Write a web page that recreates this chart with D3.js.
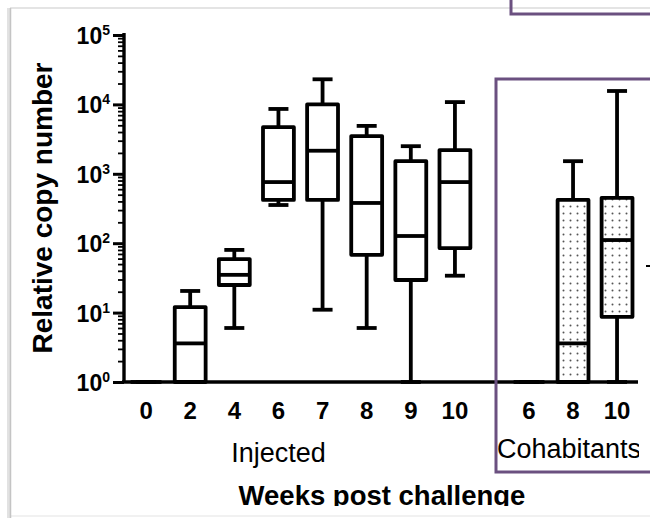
<!DOCTYPE html>
<html>
<head>
<meta charset="utf-8">
<script src="https://cdn.jsdelivr.net/npm/d3@7"></script>
<style>
  body { margin: 0; background: #fff; }
  text { font-family: "Liberation Sans", Arial, sans-serif; }
</style>
</head>
<body>
<div id="chart"></div>
<script>
// data (relative copy number, log scale)
const injectedWeeks = ["0", "2", "4", "6", "7", "8", "9", "10"];
const cohabWeeks = ["6", "8", "10"];
const groupNames = ["Injected", "Cohabitants"];
// one value per box: injected first, then cohabitants
const whiskerLow  = [1, 1, 6, 355, 11, 6, 1, 34, 1, 1, 1];
const q1          = [1, 1, 25, 420, 420, 68, 29.5, 85, 1, 1, 8.7];
const median      = [1, 3.6, 35, 760, 2150, 380, 127, 760, 1, 3.6, 111];
const q3          = [1, 12, 59, 4700, 10000, 3500, 1520, 2200, 1, 420, 450];
const whiskerHigh = [1, 20.5, 80, 8600, 23000, 4900, 2500, 10800, 1, 1520, 15600];
const decades = [1, 10, 100, 1000, 10000, 100000];
const decadeExp = ["0", "1", "2", "3", "4", "5"];

const width = 650, height = 518;
const svg = d3.select("#chart").append("svg")
    .attr("width", width)
    .attr("height", height);

const defs = svg.append("defs");
const pat = defs.append("pattern")
    .attr("id", "dots")
    .attr("patternUnits", "userSpaceOnUse")
    .attr("width", 7).attr("height", 7);
pat.append("rect").attr("width", 7).attr("height", 7).attr("fill", "#fff");
pat.append("circle").attr("cx", 3.5).attr("cy", 3.5).attr("r", 1).attr("fill", "#555");

defs.append("clipPath").attr("id", "crop")
  .append("rect").attr("x", 0).attr("y", 0).attr("width", 639).attr("height", 506);

// slide frame
svg.append("line").attr("x1", 10).attr("x2", 650).attr("y1", 8).attr("y2", 8)
    .attr("stroke", "#e4e4e4").attr("stroke-width", 2);
svg.append("line").attr("x1", 10).attr("x2", 650).attr("y1", 516).attr("y2", 516)
    .attr("stroke", "#ececec").attr("stroke-width", 1.5);
svg.append("line").attr("x1", 9).attr("x2", 9).attr("y1", 8).attr("y2", 518)
    .attr("stroke", "#e2e2e2").attr("stroke-width", 4);
svg.append("line").attr("x1", 10.5).attr("x2", 10.5).attr("y1", 8).attr("y2", 518)
    .attr("stroke", "#c4c4c4").attr("stroke-width", 1.5);

const g = svg.append("g").attr("clip-path", "url(#crop)");

const y = d3.scaleLog().domain([1, 1e5]).range([382, 35]);
const xInj = d3.scaleBand().domain(injectedWeeks).range([124, 477])
    .paddingInner(0.3).paddingOuter(0.15);
const xCoh = d3.scaleBand().domain(cohabWeeks).range([507, 639])
    .paddingInner(0.3).paddingOuter(0.15);

const boxes = injectedWeeks.map((w, i) => ({week: w, group: 0, i: i}))
  .concat(cohabWeeks.map((w, i) => ({week: w, group: 1, i: injectedWeeks.length + i})));
const xOf = d => (d.group === 0 ? xInj : xCoh)(d.week);
const bw = xInj.bandwidth();

// y axis: major + minor ticks
const minor = [];
decades.slice(0, -1).forEach(d => { for (let k = 2; k < 10; k++) minor.push(d * k); });

g.append("g")
    .attr("transform", "translate(124,0)")
    .call(d3.axisLeft(y).tickValues(minor).tickSize(6).tickFormat(""))
    .call(a => a.select(".domain").remove())
    .selectAll("line").attr("stroke", "#000").attr("stroke-width", 1.8);

g.append("g")
    .attr("transform", "translate(124,0)")
    .call(d3.axisLeft(y).tickValues(decades).tickSize(11).tickFormat(""))
    .call(a => a.select(".domain").remove())
    .selectAll("line").attr("stroke", "#000").attr("stroke-width", 3);

const yl = g.append("g").selectAll("text")
    .data(decades)
    .enter().append("text")
    .attr("x", 110)
    .attr("y", d => y(d) + 9)
    .attr("text-anchor", "end")
    .attr("font-size", 23)
    .attr("font-weight", "bold");
yl.append("tspan").text("10");
yl.append("tspan").attr("font-size", 14).attr("dy", -9).text((d, i) => decadeExp[i]);

g.append("line").attr("x1", 124).attr("x2", 124).attr("y1", 33).attr("y2", 383)
    .attr("stroke", "#000").attr("stroke-width", 3.4);
g.append("line").attr("x1", 122).attr("x2", 638).attr("y1", 382).attr("y2", 382)
    .attr("stroke", "#000").attr("stroke-width", 3.4);

// x tick labels
g.append("g").selectAll("text")
    .data(boxes)
    .enter().append("text")
    .attr("x", d => xOf(d) + bw / 2)
    .attr("y", 419)
    .attr("text-anchor", "middle")
    .attr("font-size", 24)
    .attr("font-weight", "bold")
    .text(d => d.week);

// boxes
const box = g.append("g").selectAll("g")
    .data(boxes)
    .enter().append("g")
    .attr("stroke", "#000")
    .attr("stroke-width", 3.8)
    .attr("stroke-linejoin", "round");

box.append("line")
    .attr("x1", d => xOf(d) + bw / 2).attr("x2", d => xOf(d) + bw / 2)
    .attr("y1", d => y(whiskerLow[d.i])).attr("y2", d => y(whiskerHigh[d.i]));
box.append("line")
    .attr("x1", d => xOf(d) + bw / 2 - 10).attr("x2", d => xOf(d) + bw / 2 + 10)
    .attr("y1", d => y(whiskerHigh[d.i])).attr("y2", d => y(whiskerHigh[d.i]));
box.append("line")
    .attr("x1", d => xOf(d) + bw / 2 - 10).attr("x2", d => xOf(d) + bw / 2 + 10)
    .attr("y1", d => y(whiskerLow[d.i])).attr("y2", d => y(whiskerLow[d.i]));
box.append("rect")
    .attr("x", d => xOf(d))
    .attr("width", bw)
    .attr("y", d => y(q3[d.i]))
    .attr("height", d => y(q1[d.i]) - y(q3[d.i]))
    .attr("fill", d => d.group === 1 ? "url(#dots)" : "#fff");
box.append("line")
    .attr("x1", d => xOf(d)).attr("x2", d => xOf(d) + bw)
    .attr("y1", d => y(median[d.i])).attr("y2", d => y(median[d.i]));

// group labels and axis titles
g.append("text")
    .attr("x", xInj("6") + bw / 2)
    .attr("y", 462)
    .attr("text-anchor", "middle")
    .attr("font-size", 27)
    .text(groupNames[0]);
g.append("text")
    .attr("x", 497)
    .attr("y", 458)
    .attr("font-size", 27)
    .text(groupNames[1]);

g.append("text")
    .attr("x", 382)
    .attr("y", 505)
    .attr("text-anchor", "middle")
    .attr("font-size", 27.5)
    .attr("font-weight", "bold")
    .text("Weeks post challenge");

g.append("text")
    .attr("transform", "translate(52,208) rotate(-90)")
    .attr("text-anchor", "middle")
    .attr("font-size", 28)
    .attr("font-weight", "bold")
    .text("Relative copy number");

// purple highlight boxes
svg.append("rect")
    .attr("x", 496).attr("y", 79).attr("width", 200).attr("height", 393)
    .attr("fill", "none").attr("stroke", "#6b5080").attr("stroke-width", 3);
svg.append("rect")
    .attr("x", 511).attr("y", -20).attr("width", 200).attr("height", 34)
    .attr("fill", "none").attr("stroke", "#6b5080").attr("stroke-width", 3);
svg.append("line")
    .attr("x1", 646).attr("x2", 650).attr("y1", 266).attr("y2", 266)
    .attr("stroke", "#000").attr("stroke-width", 2);
</script>
</body>
</html>
